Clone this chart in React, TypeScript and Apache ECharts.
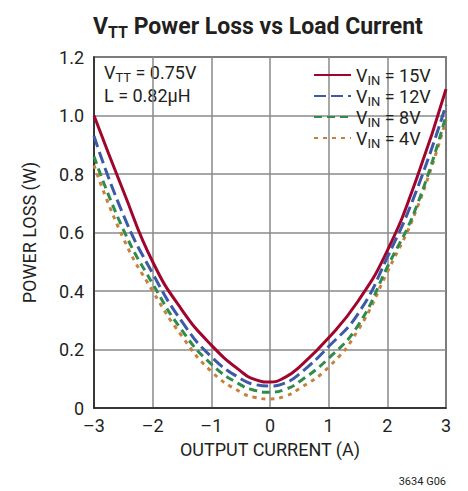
import React, { useEffect, useRef } from "react";
import * as echarts from "echarts";

const currents = [-3, -2.5, -2, -1.5, -1, -0.5, -0.25, 0, 0.25, 0.5, 1, 1.5, 2, 2.5, 3];
const loss15V = [1.0, 0.742, 0.5, 0.335, 0.215, 0.126, 0.097, 0.089, 0.104, 0.14, 0.24, 0.365, 0.538, 0.785, 1.09];
const loss12V = [0.93, 0.66, 0.46, 0.295, 0.175, 0.1, 0.08, 0.075, 0.085, 0.116, 0.21, 0.322, 0.515, 0.745, 1.036];
const loss8V = [0.86, 0.61, 0.425, 0.265, 0.15, 0.079, 0.06, 0.054, 0.063, 0.09, 0.17, 0.282, 0.482, 0.69, 1.0];
const loss4V = [0.83, 0.58, 0.4, 0.245, 0.125, 0.054, 0.036, 0.031, 0.04, 0.066, 0.14, 0.266, 0.465, 0.68, 0.985];
const seriesNames = ["15V", "12V", "8V", "4V"];
const xTicks = [-3, -2, -1, 0, 1, 2, 3];
const yTicks = [0, 0.2, 0.4, 0.6, 0.8, 1.0, 1.2];

const FONT = "Roboto, 'Liberation Sans', Arial, sans-serif";
const INK = "#231f20";

const pair = (ys: number[]) => currents.map((x, i) => [x, ys[i]]);

export default function App() {
  const ref = useRef<HTMLDivElement>(null);
  useEffect(() => {
    const chart = echarts.init(ref.current!, null, { renderer: "svg" });
    const styles = [
      { color: "#a0052d", type: "solid" as any },
      { color: "#3d5aa8", type: [12, 5] as any },
      { color: "#2f8c4c", type: [8, 5] as any },
      { color: "#c8813c", type: [4, 5] as any },
    ];
    const data = [loss15V, loss12V, loss8V, loss4V];
    chart.setOption({
      animation: false,
      textStyle: { fontFamily: FONT, color: INK },
      title: {
        text: "{b|V}{s|TT}{b| Power Loss vs Load Current}",
        left: 88,
        top: 8,
        textStyle: {
          rich: {
            b: { fontFamily: FONT, fontWeight: "bold", fontSize: 23, color: INK },
            s: { fontFamily: FONT, fontWeight: "bold", fontSize: 16, color: INK, padding: [11, 0, 0, 0] },
          },
        },
      },
      grid: { left: 94, right: 22, top: 57, bottom: 83, show: true, borderColor: INK, borderWidth: 1.5 },
      legend: {
        orient: "vertical",
        left: 308,
        top: 61,
        itemWidth: 37,
        itemHeight: 14,
        itemGap: 0,
        data: seriesNames,
        itemStyle: { opacity: 0 },
        formatter: (n: string) => `{v|V}{s|IN}{v| = ${n}}`,
        textStyle: {
          rich: {
            v: { fontFamily: FONT, fontSize: 18, color: INK },
            s: { fontFamily: FONT, fontSize: 13, color: INK, padding: [11, 0, 0, 0] },
          },
        },
      },
      xAxis: {
        type: "value",
        min: -3,
        max: 3,
        interval: 1,
        name: "OUTPUT CURRENT (A)",
        nameLocation: "middle",
        nameGap: 32,
        nameTextStyle: { fontFamily: FONT, fontSize: 18, color: INK },
        axisLine: { show: true, onZero: false, lineStyle: { color: INK, width: 1.5 } },
        axisTick: { show: false },
        axisLabel: {
          fontFamily: FONT,
          fontSize: 18,
          color: INK,
          margin: 8,
          formatter: (v: number) => (xTicks.includes(v) ? String(v).replace("-", "\u2013") : ""),
        },
        splitLine: { show: true, lineStyle: { color: "#8a8a8a", width: 1.5 } },
      },
      yAxis: {
        type: "value",
        min: 0,
        max: 1.2,
        interval: 0.2,
        name: "POWER LOSS (W)",
        nameLocation: "middle",
        nameGap: 56,
        nameTextStyle: { fontFamily: FONT, fontSize: 18, color: INK },
        axisLine: { show: true, onZero: false, lineStyle: { color: INK, width: 1.5 } },
        axisTick: { show: false },
        axisLabel: {
          fontFamily: FONT,
          fontSize: 18,
          color: INK,
          margin: 10,
          formatter: (v: number) => {
            const t = yTicks.find((k) => Math.abs(k - v) < 1e-6);
            if (t === undefined) return "";
            return t === 0 ? "0" : t.toFixed(1);
          },
        },
        splitLine: { show: true, lineStyle: { color: "#8a8a8a", width: 1.5 } },
      },
      graphic: [
        {
          type: "text",
          left: 104,
          top: 63,
          style: {
            text: "{v|V}{s|TT}{v| = 0.75V}\n{v|L = 0.82\u00b5H}",
            rich: {
              v: { fontFamily: FONT, fontSize: 18, fill: INK, lineHeight: 22 },
              s: { fontFamily: FONT, fontSize: 13, fill: INK, padding: [11, 0, 0, 0] },
            },
          },
        },
        {
          type: "text",
          right: 22,
          bottom: 4,
          style: { text: "3634 G06", fontFamily: FONT, fontSize: 11, fill: INK },
        },
      ],
      series: seriesNames.map((n, i) => ({
        name: n,
        type: "line",
        smooth: 0.5,
        showSymbol: false,
        symbol: "none",
        data: pair(data[i]),
        lineStyle: { color: styles[i].color, width: 3, type: styles[i].type },
        itemStyle: { color: styles[i].color },
        z: 10 - i,
      })),
    });
    return () => chart.dispose();
  }, []);
  return <div ref={ref} style={{ width: 468, height: 491, position: "absolute", left: 0, top: 0 }} />;
}
